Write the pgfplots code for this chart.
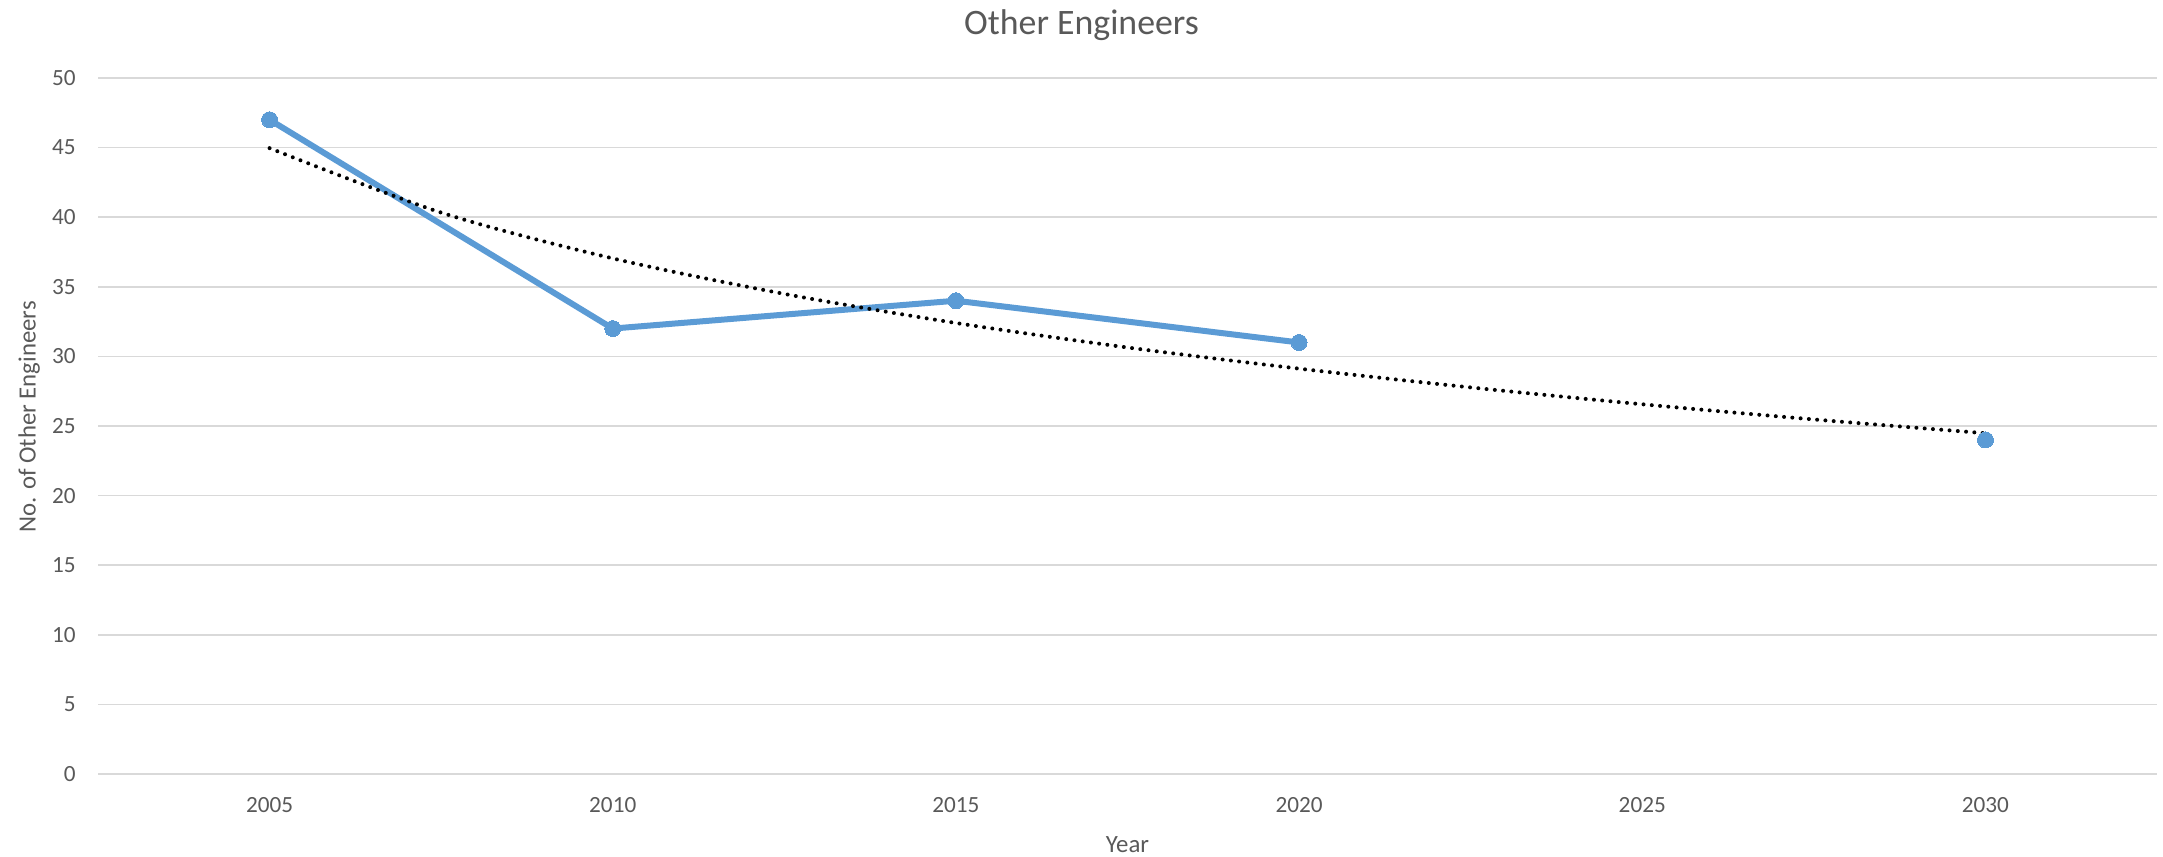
\documentclass[border=0pt]{standalone}
\usepackage{fontspec}
\setmainfont{Carlito}
\usepackage{pgfplots}
\pgfplotsset{compat=1.18}
\usepackage{pgfplotstable}

\definecolor{txtgray}{HTML}{595959}
\definecolor{gridgray}{HTML}{D9D9D9}
\definecolor{seriesblue}{HTML}{5B9BD5}

% Year index: 1 = 2005, 2 = 2010, ..., 6 = 2030
\pgfplotstableread{
idx count
1 47
2 32
3 34
4 31
5 nan
6 24
}\engineers

% Logarithmic trend through the observed years
\pgfplotstableread{
idx trend
1.0 44.96
1.5 40.33
2.0 37.04
2.5 34.49
3.0 32.40
3.5 30.64
4.0 29.12
4.5 27.77
5.0 26.56
5.5 25.47
6.0 24.48
}\trend

\begin{document}
\begin{tikzpicture}
\useasboundingbox (0,0) rectangle (1081.5bp,428.5bp);
\begin{axis}[
  at={(49bp,41.5bp)}, anchor=south west,
  scale only axis, width=1029.5bp, height=348bp,
  xmin=0.5, xmax=6.5, ymin=0, ymax=50,
  xtick={1,2,3,4,5,6},
  xticklabels={2005,2010,2015,2020,2025,2030},
  ytick={0,5,...,50},
  axis line style={draw=none},
  major tick length=0pt,
  ymajorgrids, grid style={gridgray, line width=0.8bp},
  /pgf/number format/assume math mode=true,
  tick label style={font=\fontsize{11.6bp}{13bp}\selectfont, text=txtgray},
  xticklabel style={anchor=base, inner sep=0pt, yshift=-19.5bp},
  yticklabel style={anchor=east, inner sep=0pt, xshift=-11bp},
  xlabel={Year},
  xlabel style={at={(rel axis cs:0.5,-0.1135)}, anchor=base, inner sep=0pt,
    font=\fontsize{12.4bp}{14bp}\selectfont, text=txtgray},
  ylabel={No. of Other Engineers},
  ylabel style={at={(rel axis cs:-0.0335,0.513)}, anchor=center, rotate=0, inner sep=0pt,
    font=\fontsize{12.4bp}{14bp}\selectfont, text=txtgray},
  unbounded coords=jump,
  clip=false,
]
\addplot[seriesblue, line width=3bp, mark=*, mark size=4bp,
  mark options={fill=seriesblue, draw=seriesblue, line width=0pt}]
  table[x=idx, y=count] {\engineers};
\addplot[black, line width=2bp, line cap=round, dash pattern=on 0pt off 4.15bp, smooth]
  table[x=idx, y=trend] {\trend};
\end{axis}
% chart title
\node[anchor=base, inner sep=0pt, text=txtgray, font=\fontsize{17.9bp}{20bp}\selectfont]
  at (540.75bp,411bp) {Other Engineers};
\end{tikzpicture}
\end{document}
